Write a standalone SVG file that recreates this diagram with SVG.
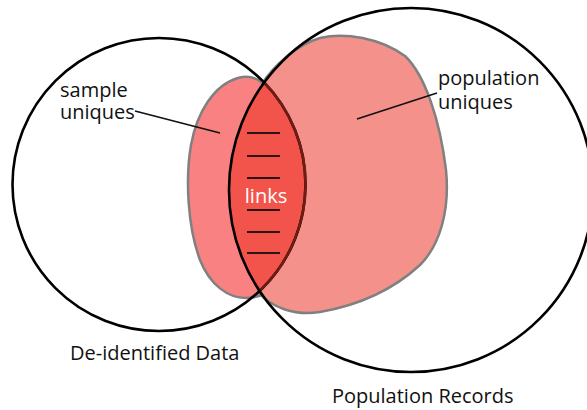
<svg xmlns="http://www.w3.org/2000/svg" width="587" height="410" viewBox="0 0 587 410">
<style>
.lbl{font-family:"Open Sans","Liberation Sans",sans-serif;font-size:20px;fill:#111}
.circ{fill:none;stroke:#000;stroke-width:2.6}
.blob{stroke:#808080;stroke-width:2.5}
.dash{stroke:#2a1414;stroke-width:1.8}
.lead{stroke:#111;stroke-width:1.6;fill:none}
</style>
<rect width="587" height="410" fill="#fff"/>
<g id="sample-uniques">
<path class="blob" fill="#F98181" d="M264 84 C256 77,248 75,238 78 C214 85,197 112,191 145 C185 180,188 228,200 260 C210 285,228 298,246 298 C258 298,266 294,272 288 L290 180 Z"/>
</g>
<g id="population-uniques">
<path class="blob" fill="#F4918A" d="M262 84 C272 68,295 45,320 38 C345 32,380 38,405 56 C425 75,440 120,446 170 C450 210,440 245,420 265 C395 288,360 305,320 312 C295 316,272 308,258 292 L280 190 Z"/>
</g>
<g id="links">
<path fill="#F2544B" d="M264.15 82.5 A182 182 0 0 0 259.6 291 A146.5 146.5 0 0 0 264.15 82.5 Z"/>
<line class="dash" x1="247" y1="133" x2="280" y2="133"/>
<line class="dash" x1="247" y1="156" x2="280" y2="156"/>
<line class="dash" x1="247" y1="178" x2="280" y2="178"/>
<line class="dash" x1="247" y1="210" x2="280" y2="210"/>
<line class="dash" x1="247" y1="232" x2="280" y2="232"/>
<line class="dash" x1="247" y1="253" x2="280" y2="253"/>
<text x="266" y="203" text-anchor="middle" style="font-family:'Open Sans','Liberation Sans',sans-serif;font-size:20px;fill:#fff">links</text>
</g>
<g id="deidentified-data">
<circle class="circ" cx="159" cy="184.5" r="146.5"/>
<path fill="none" stroke="#6e1c14" stroke-width="2.6" d="M259.6 291 A146.5 146.5 0 0 0 264.15 82.5"/>
<text class="lbl" x="70" y="360">De-identified Data</text>
</g>
<g id="population-records">
<circle class="circ" cx="411" cy="190" r="182"/>
<text class="lbl" x="332" y="403">Population Records</text>
</g>
<g id="connectors">
<line class="lead" x1="135" y1="111" x2="220" y2="133"/>
<line class="lead" x1="357" y1="119" x2="437" y2="93"/>
</g>
<g id="labels">
<text class="lbl" x="60" y="97">sample</text>
<text class="lbl" x="60" y="119">uniques</text>
<text class="lbl" x="438" y="85">population</text>
<text class="lbl" x="438" y="109">uniques</text>
</g>
</svg>
